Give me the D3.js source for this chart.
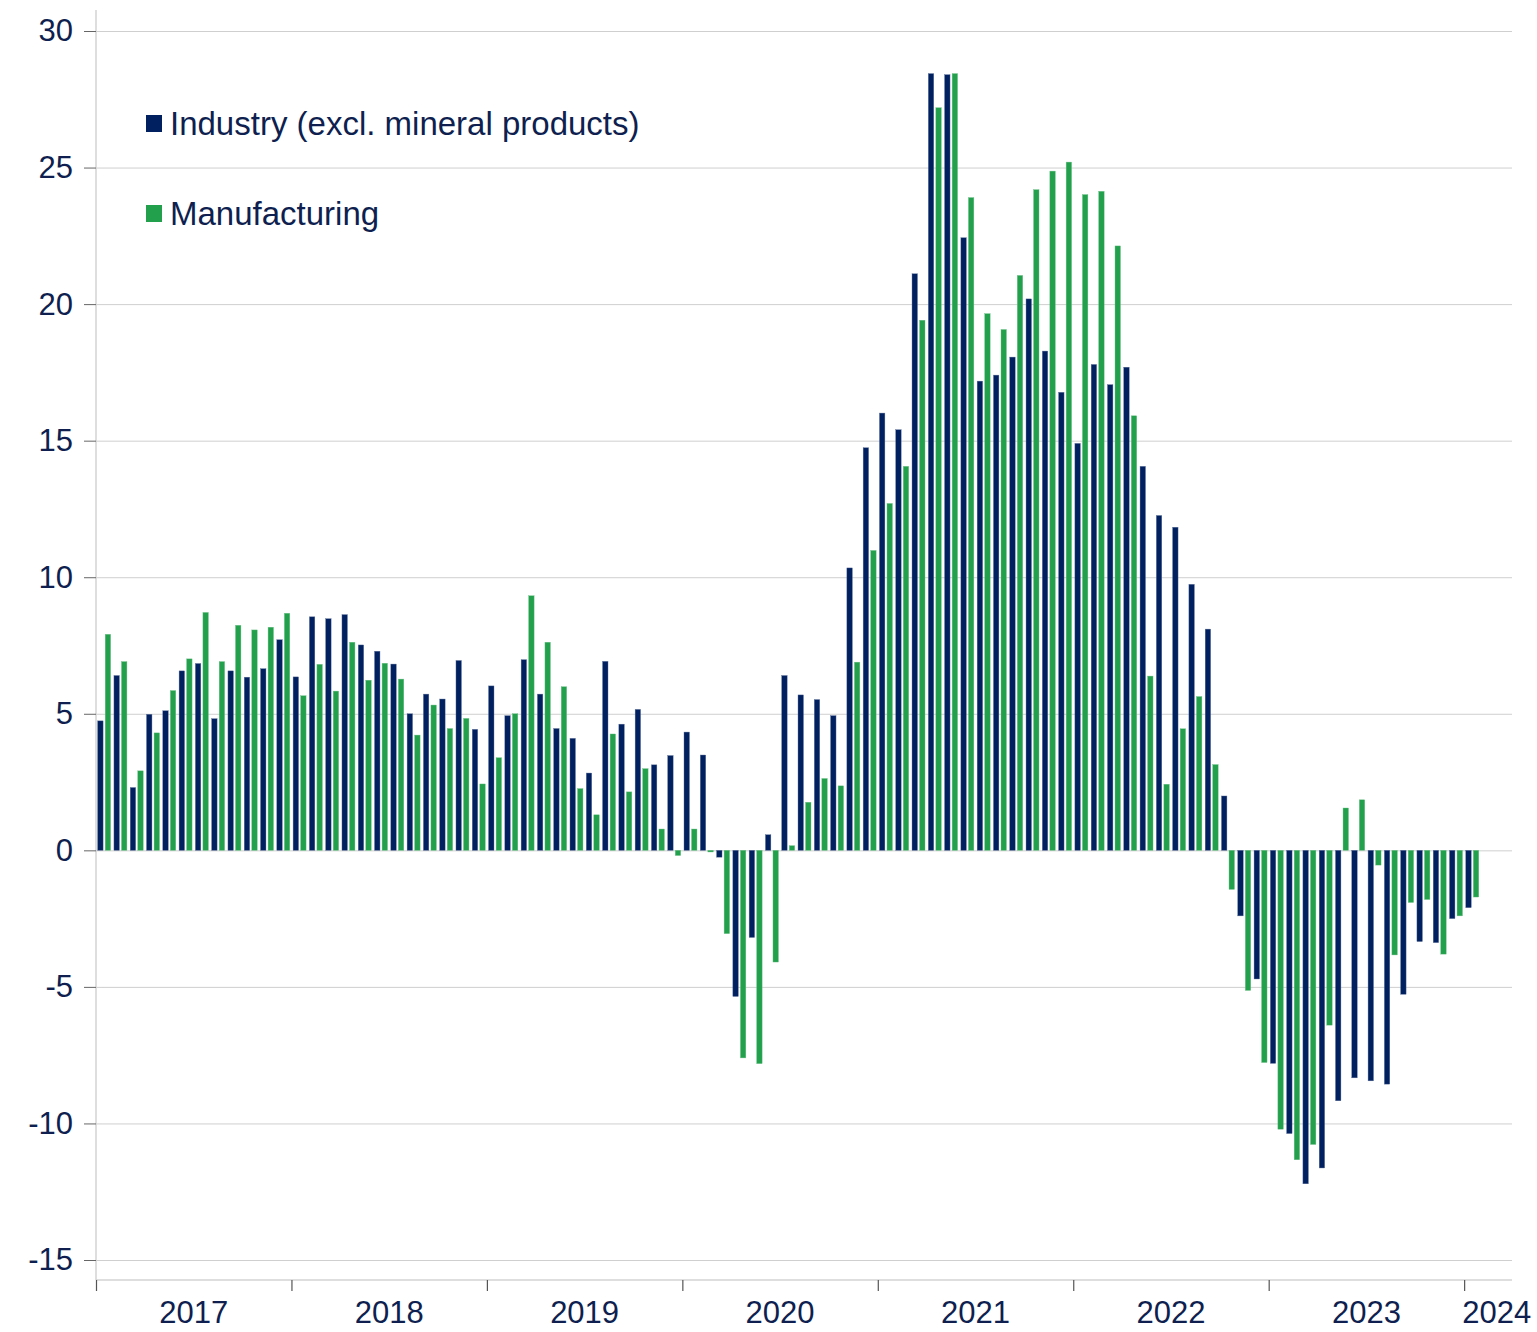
<!DOCTYPE html>
<html>
<head>
<meta charset="utf-8">
<script src="https://cdn.jsdelivr.net/npm/d3@7"></script>
<style>
  html, body { margin: 0; padding: 0; background: #ffffff; }
  svg { display: block; font-family: "Liberation Sans", Arial, sans-serif; }
</style>
</head>
<body>
<svg id="chart" width="1537" height="1332"></svg>
<script>
// ---- Data (monthly, Jan 2017 – Jan 2024) ----
const startYear = 2017;
const industry = [
  4.74, 6.40, 2.30, 4.98, 5.11, 6.57, 6.84, 4.82, 6.57, 6.34, 6.65, 7.71,
  6.35, 8.55, 8.48, 8.63, 7.52, 7.29, 6.82, 5.00, 5.72, 5.54, 6.95, 4.43,
  6.02, 4.93, 6.98, 5.72, 4.46, 4.10, 2.83, 6.92, 4.62, 5.16, 3.13, 3.47,
  4.33, 3.49, -0.25, -5.35, -3.19, 0.57, 6.40, 5.69, 5.52, 4.93, 10.34, 14.74,
  16.01, 15.40, 21.11, 28.44, 28.40, 22.43, 17.18, 17.40, 18.06, 20.19, 18.28, 16.77,
  14.90, 17.79, 17.05, 17.69, 14.06, 12.26, 11.83, 9.74, 8.10, 1.99, -2.40, -4.71,
  -7.80, -10.37, -12.21, -11.63, -9.17, -8.33, -8.44, -8.56, -5.27, -3.34, -3.38, -2.50,
  -2.10
];
const manufacturing = [
  7.91, 6.91, 2.91, 4.30, 5.85, 7.01, 8.71, 6.91, 8.24, 8.07, 8.17, 8.68,
  5.66, 6.81, 5.83, 7.62, 6.23, 6.85, 6.27, 4.22, 5.32, 4.46, 4.83, 2.43,
  3.39, 5.00, 9.32, 7.62, 5.99, 2.26, 1.30, 4.26, 2.14, 2.99, 0.78, -0.19,
  0.78, -0.06, -3.05, -7.60, -7.81, -4.09, 0.17, 1.76, 2.63, 2.36, 6.89, 10.98,
  12.70, 14.06, 19.41, 27.19, 28.44, 23.90, 19.65, 19.07, 21.05, 24.19, 24.87, 25.20,
  24.01, 24.13, 22.13, 15.91, 6.38, 2.42, 4.45, 5.63, 3.14, -1.43, -5.13, -7.77,
  -10.21, -11.33, -10.77, -6.40, 1.55, 1.85, -0.54, -3.83, -1.91, -1.80, -3.80, -2.40,
  -1.71
];
const seriesNames = ["Industry (excl. mineral products)", "Manufacturing"];
const seriesKeys = ["industry", "manufacturing"];
const yearLabels = ["2017", "2018", "2019", "2020", "2021", "2022", "2023", "2024"];
const yTickValues = [-15, -10, -5, 0, 5, 10, 15, 20, 25, 30];

// ---- Styles ----
const colors = { industry: "#00205f", manufacturing: "#22a04b" };
const textColor = "#0e1f50";
const gridColor = "#cfcfcf";

const svg = d3.select("#chart");

const plotLeft = 96, plotRight = 1513, plotTop = 10, plotBottom = 1280;
const totalMonths = 87; // axis runs Jan 2017 .. end of Mar 2024

const x = d3.scaleLinear().domain([0, totalMonths]).range([plotLeft, plotRight]);
const y = d3.scaleLinear().domain([-15, 30]).range([1260, 31]);
const monthW = x(1) - x(0);
const xSub = d3.scaleBand().domain(seriesKeys).range([0, monthW]).paddingInner(0.28).paddingOuter(0.22);

const rows = industry.map((v, i) => ({ i, industry: v, manufacturing: manufacturing[i] }));

// gridlines
const yAxisGrid = d3.axisLeft(y).tickValues(yTickValues).tickSize(-(1512 - plotLeft)).tickFormat("");
svg.append("g")
  .attr("transform", `translate(${plotLeft},0)`)
  .call(yAxisGrid)
  .call(g => g.select(".domain").remove())
  .call(g => g.selectAll("line").attr("stroke", gridColor).attr("stroke-width", 1));

// y axis line
svg.append("line")
  .attr("x1", plotLeft).attr("x2", plotLeft)
  .attr("y1", plotTop).attr("y2", plotBottom)
  .attr("stroke", "#d3d3d3").attr("stroke-width", 1.5);

// y axis ticks + labels (hyphen-minus as in the reference)
const yAxis = d3.axisLeft(y).tickValues(yTickValues).tickSize(12).tickPadding(11).tickFormat(d => String(d));
svg.append("g")
  .attr("transform", `translate(${plotLeft},0)`)
  .call(yAxis)
  .call(g => g.select(".domain").remove())
  .call(g => g.selectAll("line").attr("stroke", "#666").attr("stroke-width", 1))
  .call(g => g.selectAll("text")
    .attr("fill", textColor)
    .attr("font-size", "31px")
    .attr("font-family", "Liberation Sans, Arial, sans-serif"));

// bars
const groups = svg.append("g").selectAll("g.month")
  .data(rows).join("g")
  .attr("class", "month")
  .attr("transform", d => `translate(${x(d.i)},0)`);

groups.selectAll("rect")
  .data(d => seriesKeys.map(k => ({ key: k, value: d[k] })))
  .join("rect")
  .attr("x", d => xSub(d.key))
  .attr("width", xSub.bandwidth())
  .attr("y", d => Math.min(y(d.value), y(0)))
  .attr("height", d => Math.abs(y(d.value) - y(0)))
  .attr("fill", d => colors[d.key])
  .attr("stroke", d => d.key === "industry" ? "#5a6f9a" : "#6cc088")
  .attr("stroke-width", 0.4);

// x axis line
svg.append("line")
  .attr("x1", plotLeft).attr("x2", 1512)
  .attr("y1", plotBottom).attr("y2", plotBottom)
  .attr("stroke", "#d3d3d3").attr("stroke-width", 1.5);

// x year ticks
const yearIdx = yearLabels.map((_, k) => k * 12);
const xAxis = d3.axisBottom(x).tickValues(yearIdx).tickSize(11).tickFormat("");
svg.append("g")
  .attr("transform", `translate(0,${plotBottom})`)
  .call(xAxis)
  .call(g => g.select(".domain").remove())
  .call(g => g.selectAll("line").attr("stroke", "#555").attr("stroke-width", 1.2));

// year labels centred in each year's span
svg.append("g").selectAll("text")
  .data(yearLabels)
  .join("text")
  .attr("x", (d, k) => {
    const s = k * 12, e = Math.min(k * 12 + 12, totalMonths + 1);
    return x((s + e) / 2);
  })
  .attr("y", 1323)
  .attr("text-anchor", "middle")
  .attr("fill", textColor)
  .attr("font-size", "31px")
  .text(d => d);

// legend
const legend = svg.append("g").attr("transform", "translate(146,115)");
const li = legend.selectAll("g").data(seriesKeys).join("g")
  .attr("transform", (d, k) => `translate(0,${k * 90})`);
li.append("rect").attr("width", 16).attr("height", 17).attr("fill", d => colors[d]);
li.append("text")
  .attr("x", 24).attr("y", 20)
  .attr("fill", textColor)
  .attr("font-size", "33px")
  .text((d, k) => seriesNames[k]);
</script>
</body>
</html>
